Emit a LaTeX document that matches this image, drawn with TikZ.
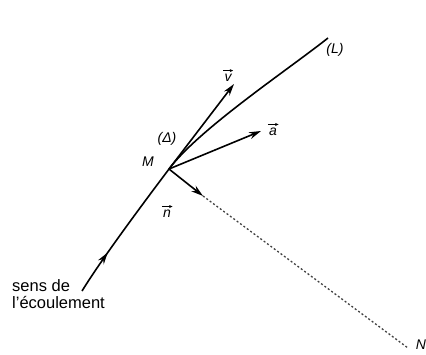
\documentclass[tikz,border=0pt]{standalone}
\usepackage{fontspec}
\setmainfont{Liberation Sans}
\usetikzlibrary{arrows.meta,decorations.markings}
\begin{document}
\begin{tikzpicture}[x=1pt,y=-1pt,
  curveline/.style={line width=1.6pt},
  vecarrow/.style={line width=1.6pt,-{Stealth[length=12pt,width=7pt]}},
  dotline/.style={line width=1.3pt,dash pattern=on 2pt off 2.2pt,black!75},
  lab/.style={font=\fontsize{14}{16}\selectfont\itshape,inner sep=0pt},
  overarrow/.style={line width=0.8pt,-{Stealth[length=3.5pt,width=3pt]}},
  txt/.style={font=\fontsize{16.5}{17}\selectfont,inner sep=0pt,align=left}]
\useasboundingbox (0,0) rectangle (426,354);
\coordinate (S) at (82,291);
\coordinate (M) at (169,169);
\coordinate (E) at (328,38);
\coordinate (V) at (234,84);
\coordinate (A) at (261,131);
\coordinate (Nt) at (203,196);
\coordinate (Ne) at (408,348);
% streamline
\draw[curveline,postaction={decorate},decoration={markings,
  mark=at position 0.13 with {\arrow{Stealth[length=12pt,width=7pt]}}}]
  (S) .. controls (103,257) and (145,201) .. (M)
      .. controls (199,129) and (289,69) .. (E);
% vectors
\draw[vecarrow] (M) -- (V);
\draw[vecarrow] (M) -- (A);
\draw[vecarrow] (M) -- (Nt);
\draw[dotline] (Nt) -- (Ne);
% labels
\node[lab] (lv) at (228,78) {v};
\node[lab] (la) at (273,132) {a};
\node[lab] (ln) at (167,214) {n};
\draw[overarrow] ([xshift=-1pt,yshift=3.5pt]lv.north west) -- ([xshift=1.5pt,yshift=3.5pt]lv.north east);
\draw[overarrow] ([xshift=-1pt,yshift=3.5pt]la.north west) -- ([xshift=1.5pt,yshift=3.5pt]la.north east);
\draw[overarrow] ([xshift=-1pt,yshift=3.5pt]ln.north west) -- ([xshift=1.5pt,yshift=3.5pt]ln.north east);
\node[lab] (lD) at (167,139) {(Δ)};
\node[lab] (lM) at (148,162) {M};
\node[lab] (lL) at (335,50) {(L)};
\node[lab] (lN) at (421,345) {N};
\node[txt,anchor=north west] (t) at (12,279) {sens de\\l'écoulement};
\end{tikzpicture}
\end{document}
